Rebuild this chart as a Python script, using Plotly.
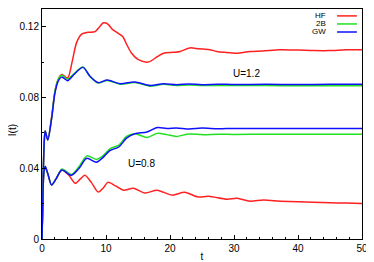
import plotly.graph_objects as go

# U = 1.2
t_hf12 = [0, 0.15, 0.35, 0.5, 0.9, 1.5, 2.0, 2.5, 3.1, 4.0, 4.7, 5.4, 6.2, 7.2, 8.3, 9.0, 9.6, 10.3, 11.0, 11.8, 12.6, 13.3, 14.0, 15.0, 16.6, 18.0, 19.0, 20.5, 21.6, 23.1, 24.5, 26.2, 27.3, 28.5, 30.4, 32.5, 34.5, 37.2, 40.0, 42.5, 45.0, 47.5, 50.0]
i_hf12 = [0, 0.03, 0.055, 0.061, 0.056, 0.069, 0.083, 0.090, 0.093, 0.091, 0.100, 0.111, 0.1158, 0.1168, 0.1172, 0.1200, 0.1222, 0.1215, 0.1185, 0.1165, 0.1145, 0.1095, 0.1050, 0.1015, 0.100, 0.103, 0.105, 0.1055, 0.106, 0.108, 0.1075, 0.107, 0.106, 0.1055, 0.105, 0.106, 0.1063, 0.107, 0.1068, 0.1065, 0.1065, 0.107, 0.107]

t_gw12 = [0, 0.15, 0.35, 0.5, 0.9, 1.5, 2.0, 2.5, 3.1, 4.0, 5.0, 6.4, 7.5, 8.75, 10.2, 12.2, 14.5, 16.9, 19.0, 21.0, 23.0, 25.0, 27.5, 30.0, 35.0, 40.0, 45.0, 50.0]
i_gw12 = [0, 0.03, 0.055, 0.061, 0.056, 0.068, 0.082, 0.089, 0.0915, 0.0895, 0.093, 0.097, 0.092, 0.0884, 0.0898, 0.0878, 0.0888, 0.0868, 0.0878, 0.0872, 0.0876, 0.0872, 0.0875, 0.0873, 0.0874, 0.0873, 0.0874, 0.0874]
i_2b12 = [0, 0.03, 0.055, 0.061, 0.056, 0.068, 0.083, 0.090, 0.0925, 0.0903, 0.0935, 0.0972, 0.0918, 0.0882, 0.0896, 0.0875, 0.0884, 0.0864, 0.0874, 0.0868, 0.0871, 0.0867, 0.0868, 0.0867, 0.0867, 0.0866, 0.0866, 0.0866]

# U = 0.8
t_hf08 = [0, 0.15, 0.3, 0.5, 0.9, 1.5, 2.2, 3.1, 4.2, 5.2, 6.0, 6.7, 7.7, 8.8, 9.6, 10.3, 11.5, 12.7, 14.3, 16.1, 18.0, 20.3, 22.3, 24.4, 26.0, 28.9, 30.5, 32.5, 34.6, 37.2, 40.0, 42.4, 45.0, 47.5, 50.0]
i_hf08 = [0, 0.025, 0.038, 0.041, 0.037, 0.0305, 0.034, 0.039, 0.036, 0.0315, 0.034, 0.036, 0.032, 0.0265, 0.029, 0.032, 0.030, 0.0276, 0.0287, 0.026, 0.0276, 0.0248, 0.0264, 0.0237, 0.0242, 0.0225, 0.023, 0.0214, 0.022, 0.0214, 0.021, 0.0208, 0.0205, 0.0203, 0.020]

t_gw08 = [0, 0.15, 0.3, 0.5, 0.9, 1.5, 2.2, 3.1, 4.6, 5.8, 7.0, 8.5, 9.5, 10.6, 12.0, 13.2, 14.5, 16.4, 18.0, 19.5, 21.0, 23.0, 25.0, 27.5, 30.0, 35.0, 40.0, 45.0, 50.0]
i_gw08 = [0, 0.025, 0.038, 0.041, 0.037, 0.0305, 0.034, 0.039, 0.036, 0.040, 0.0456, 0.0434, 0.046, 0.050, 0.052, 0.057, 0.0595, 0.0605, 0.063, 0.0625, 0.0628, 0.0622, 0.0627, 0.0623, 0.0625, 0.0624, 0.0625, 0.0624, 0.0624]
i_2b08 = [0, 0.025, 0.038, 0.041, 0.037, 0.0305, 0.034, 0.0395, 0.0365, 0.041, 0.047, 0.045, 0.047, 0.051, 0.053, 0.058, 0.0595, 0.0574, 0.0597, 0.059, 0.058, 0.0594, 0.059, 0.0592, 0.0591, 0.0592, 0.0592, 0.0592, 0.0592]

x_ticks = [0, 10, 20, 30, 40, 50]
y_ticks = [0, 0.04, 0.08, 0.12]
y_tick_text = ["0", "0.04", "0.08", "0.12"]
legend_names = ["HF", "2B", "GW"]
RED, GREEN, BLUE = "#ff2020", "#20e020", "#1010ff"
legend_colors = [RED, GREEN, BLUE]

fig = go.Figure()
def add(t, i, c):
    fig.add_trace(go.Scatter(x=t, y=i, mode="lines", line=dict(color=c, width=1.5, shape="spline", smoothing=0.8),
                             showlegend=False, hoverinfo="skip", cliponaxis=True))

add(t_hf12, i_hf12, RED)
add(t_gw12, i_2b12, GREEN)
add(t_gw12, i_gw12, BLUE)
add(t_hf08, i_hf08, RED)
add(t_gw08, i_2b08, GREEN)
add(t_gw08, i_gw08, BLUE)

font = dict(family="Liberation Sans, Arial, sans-serif", size=10, color="black")

fig.add_annotation(x=32.0, y=0.0935, text="U=1.2", showarrow=False, font=font)
fig.add_annotation(x=15.5, y=0.0428, text="U=0.8", showarrow=False, font=font)

# y-axis title placed as rotated text
fig.add_annotation(xref="paper", yref="paper", x=-0.09, y=0.474, text="I(t)", textangle=-90,
                   showarrow=False, xanchor="center", yanchor="middle", font=font)

ly = [0.970, 0.935, 0.900]
for name, col, yy in zip(legend_names, legend_colors, ly):
    fig.add_annotation(xref="paper", yref="paper", x=0.89, y=yy, text=name, showarrow=False,
                       xanchor="right", yanchor="middle", borderpad=0,
                       font=dict(family=font["family"], size=8, color="black"))
    fig.add_shape(type="line", xref="paper", yref="paper", x0=0.922, x1=0.984, y0=yy, y1=yy,
                  line=dict(color=col, width=1.5))

axis_common = dict(showline=True, linecolor="black", linewidth=1, mirror=True, ticks="inside",
                   ticklen=4, tickcolor="black", showgrid=False, zeroline=False, tickfont=font,
                   automargin=False)
fig.update_xaxes(range=[0, 50], tickvals=x_ticks, title=dict(text="t", font=font, standoff=0),
                 minor=dict(dtick=2, ticks="inside", ticklen=2, tickcolor="black"), **axis_common)
fig.update_yaxes(range=[0, 0.13], tickvals=y_ticks, ticktext=y_tick_text,
                 minor=dict(dtick=0.02, ticks="inside", ticklen=2, tickcolor="black"), **axis_common)

# page body adds an 8px offset, so the figure is sized to fit the 374x262 window
fig.update_layout(width=366, height=254, margin=dict(l=34, r=12, t=1, b=23, autoexpand=False),
                  plot_bgcolor="white", paper_bgcolor="white", showlegend=False)
fig.write_html("out.html")
